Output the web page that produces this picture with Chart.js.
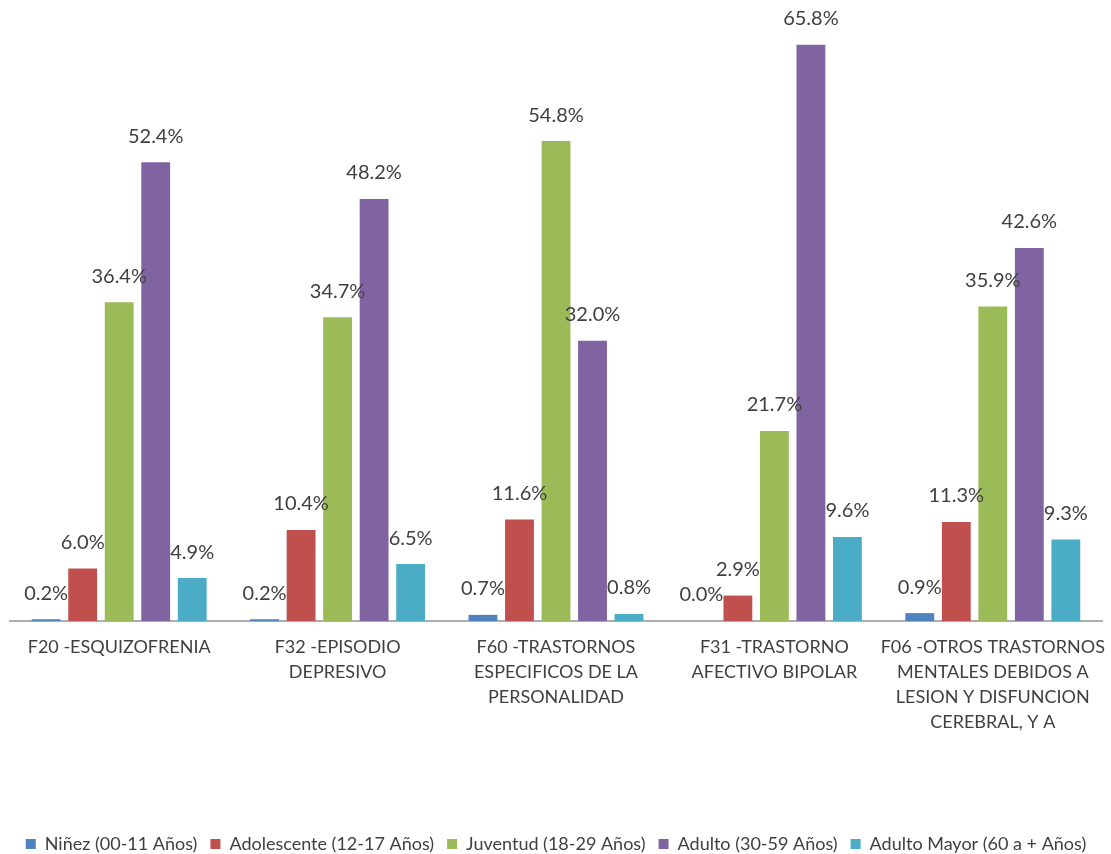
<!DOCTYPE html>
<html>
<head>
<meta charset="utf-8">
<script src="https://cdn.jsdelivr.net/npm/chart.js@4/dist/chart.umd.min.js"></script>
<style>
html,body{margin:0;padding:0;background:#fff;}
#wrap{width:1111px;height:854px;position:relative;}
</style>
</head>
<body>
<div id="wrap"><canvas id="c" width="1111" height="854"></canvas></div>
<script>
const categories = [
  ["F20 -ESQUIZOFRENIA"],
  ["F32 -EPISODIO", "DEPRESIVO"],
  ["F60 -TRASTORNOS", "ESPECIFICOS DE LA", "PERSONALIDAD"],
  ["F31 -TRASTORNO", "AFECTIVO BIPOLAR"],
  ["F06 -OTROS TRASTORNOS", "MENTALES DEBIDOS A", "LESION Y DISFUNCION", "CEREBRAL, Y A"]
];
const seriesNames = [
  "Niñez (00-11 Años)",
  "Adolescente (12-17 Años)",
  "Juventud (18-29 Años)",
  "Adulto (30-59 Años)",
  "Adulto Mayor (60 a + Años)"
];
const ninez = [0.2, 0.2, 0.7, 0.0, 0.9];
const adolescente = [6.0, 10.4, 11.6, 2.9, 11.3];
const juventud = [36.4, 34.7, 54.8, 21.7, 35.9];
const adulto = [52.4, 48.2, 32.0, 65.8, 42.6];
const adultoMayor = [4.9, 6.5, 0.8, 9.6, 9.3];
const colors = ["#4F81BD", "#C0504D", "#9BBB59", "#8064A2", "#4BACC6"];

const allSeries = [ninez, adolescente, juventud, adulto, adultoMayor];

const labelPlugin = {
  id: 'barLabels',
  afterDatasetsDraw(chart) {
    const ctx = chart.ctx;
    ctx.save();
    ctx.font = '20px Lato';
    ctx.fillStyle = '#404040';
    ctx.textAlign = 'center';
    ctx.textBaseline = 'middle';
    chart.data.datasets.forEach((ds, i) => {
      const meta = chart.getDatasetMeta(i);
      meta.data.forEach((bar, j) => {
        ctx.fillText(ds.data[j].toFixed(1) + '%', bar.x, bar.y - 26);
      });
    });
    ctx.restore();
  }
};

new Chart(document.getElementById('c'), {
  type: 'bar',
  data: {
    labels: categories,
    datasets: allSeries.map((d, i) => ({
      label: seriesNames[i],
      data: d,
      backgroundColor: colors[i],
      borderWidth: 0,
      categoryPercentage: 0.836,
      barPercentage: 0.79
    }))
  },
  options: {
    responsive: false,
    animation: false,
    layout: { padding: { top: 8, left: 10, right: 9, bottom: -9 } },
    plugins: {
      legend: {
        position: 'bottom',
        labels: {
          font: { family: 'Lato', size: 18 },
          color: '#404040',
          boxWidth: 10,
          boxHeight: 10,
          padding: 13
        }
      },
      tooltip: { enabled: false }
    },
    scales: {
      y: { display: false, min: 0, max: 70 },
      x: {
        grid: { display: false, drawTicks: false },
        border: { display: true, color: '#ADADAD', width: 2 },
        ticks: {
          font: { family: 'Lato', size: 18, lineHeight: 25/18 },
          color: '#404040',
          padding: 14,
          maxRotation: 0,
          autoSkip: false
        },
        afterFit(scale) {
          scale.height = 201;
          scale.paddingLeft = 0;
          scale.paddingRight = 0;
        }
      }
    }
  },
  plugins: [labelPlugin]
});
</script>
</body>
</html>
